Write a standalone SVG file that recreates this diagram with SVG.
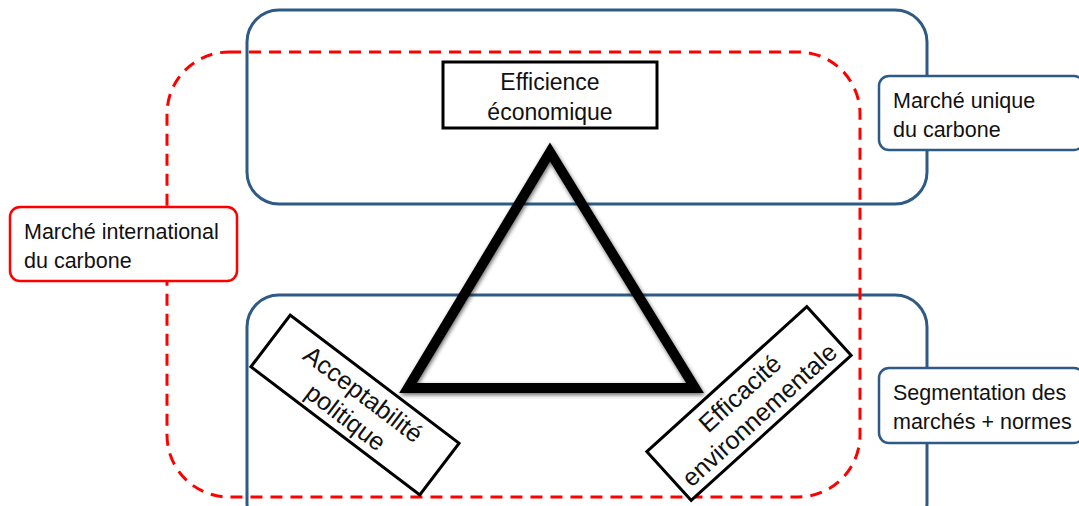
<svg xmlns="http://www.w3.org/2000/svg" width="1079" height="506" viewBox="0 0 1079 506">
<style>
.blue{fill:none;stroke:#2E5A86;stroke-width:3}
.red{fill:none;stroke:#FF0000;stroke-width:3;stroke-dasharray:12 8}
.box{fill:#fff;stroke:#000;stroke-width:3}
.rbox{fill:#fff;stroke:#FF0000;stroke-width:2.5}
.bbox{fill:#fff;stroke:#2E5A86;stroke-width:2.5}
text{font-family:"Liberation Sans",Arial,sans-serif;font-size:21.5px;fill:#111}
.c{text-anchor:middle}
.big{font-size:25px}
.mid{font-size:23px}
</style>
<defs>
<filter id="sh" x="-20%" y="-20%" width="140%" height="140%">
<feGaussianBlur in="SourceAlpha" stdDeviation="2"/>
<feOffset dx="1" dy="2" result="b"/>
<feComponentTransfer><feFuncA type="linear" slope="0.6"/></feComponentTransfer>
<feMerge><feMergeNode/><feMergeNode in="SourceGraphic"/></feMerge>
</filter>
</defs>
<g id="zones">
<rect id="zone-unique" class="blue" x="247" y="10" width="680" height="194" rx="32"/>
<rect id="zone-segmentation" class="blue" x="247" y="295" width="680" height="240" rx="32"/>
<rect id="zone-international" class="red" x="167" y="52" width="693" height="445" rx="62"/>
</g>
<g id="connectors">
<polygon id="triangle" points="550,152 408,388 695,388" fill="none" stroke="#000" stroke-width="10" stroke-linejoin="miter" filter="url(#sh)"/>
</g>
<g id="efficience">
<rect class="box" x="443" y="62" width="214" height="66"/>
<text class="c mid" x="550" y="90">Efficience</text>
<text class="c mid" x="550" y="120">économique</text>
</g>
<g id="acceptabilite" transform="translate(355,405) rotate(37.2)">
<rect class="box" x="-106" y="-32.5" width="212" height="65"/>
<text class="c big" x="0" y="-5">Acceptabilité</text>
<text class="c big" x="0" y="24">politique</text>
</g>
<g id="efficacite" transform="translate(749,403.5) rotate(-42.2)">
<rect class="box" x="-108" y="-33" width="216" height="66"/>
<text class="c big" x="0" y="-5">Efficacité</text>
<text class="c big" x="0" y="24">environnementale</text>
</g>
<g id="marche-international">
<rect class="rbox" x="10" y="207" width="227" height="74" rx="10"/>
<text x="24" y="239">Marché international</text>
<text x="24" y="268">du carbone</text>
</g>
<g id="marche-unique">
<rect class="bbox" x="879" y="76" width="205" height="74" rx="10"/>
<text x="893" y="108">Marché unique</text>
<text x="893" y="137">du carbone</text>
</g>
<g id="segmentation">
<rect class="bbox" x="879" y="368" width="205" height="75" rx="10"/>
<text x="893" y="400">Segmentation des</text>
<text x="893" y="429">marchés + normes</text>
</g>
</svg>
